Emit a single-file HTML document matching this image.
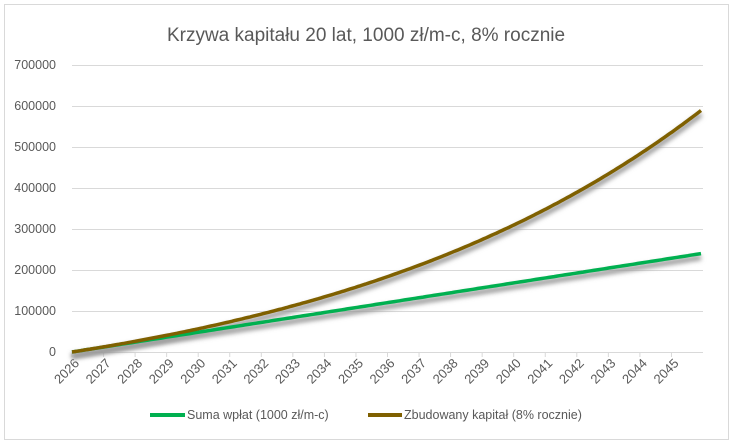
<!DOCTYPE html>
<html><head><meta charset="utf-8"><style>
body{margin:0;background:#fff;}
svg{display:block;font-family:"Liberation Sans",sans-serif;}
</style></head><body>
<svg id="s" width="733" height="444" xmlns="http://www.w3.org/2000/svg">
<defs><filter id="sh" x="-5%" y="-5%" width="110%" height="120%"><feGaussianBlur stdDeviation="2.5"/></filter></defs>
<rect x="4.5" y="4.5" width="724" height="435" fill="#fff" stroke="#d9d9d9"/>
<text x="366" y="41" text-anchor="middle" font-size="19" fill="#595959">Krzywa kapitału 20 lat, 1000 zł/m-c, 8% rocznie</text>
<g id="grid" stroke="#d9d9d9" stroke-width="1"></g>
<g id="yl" font-size="12.5" fill="#595959" text-anchor="end"></g>
<g id="xl" font-size="13" fill="#595959"></g>
<g id="lines"></g>
<line x1="150" y1="415" x2="185" y2="415" stroke="#00b050" stroke-width="4"/>
<text x="187" y="419" font-size="12.5" fill="#595959">Suma wpłat (1000 zł/m-c)</text>
<line x1="368" y1="415" x2="402" y2="415" stroke="#7f6000" stroke-width="4"/>
<text x="404" y="419" font-size="12.5" fill="#595959">Zbudowany kapitał (8% rocznie)</text>
</svg>
<script>
var NS="http://www.w3.org/2000/svg";
function el(p,t,a,txt){var e=document.createElementNS(NS,t);for(var k in a)e.setAttribute(k,a[k]);if(txt)e.textContent=txt;document.getElementById(p).appendChild(e);return e;}
var x0=72,x1=701,y0=352,k=41/100000;
for(var i=0;i<=7;i++){var y=y0-i*100000*k;el("grid","line",{x1:x0,x2:x1+2,y1:y+0.5,y2:y+0.5});el("yl","text",{x:56,y:y+4},String(i*100000));}
for(var j=0;j<20;j++){var x=x0+j*31.55;el("grid","line",{x1:x,x2:x,y1:y0,y2:y0+5});
el("xl","text",{x:0,y:0,"text-anchor":"end",transform:"translate("+(x+8)+","+(y0+12)+") rotate(-45)"},String(2026+j));}
var r=0.08/12,a="",b="",c=0;
for(var m=0;m<=240;m++){var X=x0+m*(x1-x0)/240;c=m==0?0:c*(1+r)+1000;a+=(m?"L":"M")+X.toFixed(1)+","+(y0-1000*m*k).toFixed(1);b+=(m?"L":"M")+X.toFixed(1)+","+(y0-c*k).toFixed(1);}
el("lines","path",{d:a,fill:"none",stroke:"#999","stroke-width":5,filter:"url(#sh)",transform:"translate(0,4)"});
el("lines","path",{d:b,fill:"none",stroke:"#999","stroke-width":5,filter:"url(#sh)",transform:"translate(0,4)"});
el("lines","path",{d:a,fill:"none",stroke:"#00b050","stroke-width":3.5});
el("lines","path",{d:b,fill:"none",stroke:"#7f6000","stroke-width":3.5});
</script>
</body></html>
